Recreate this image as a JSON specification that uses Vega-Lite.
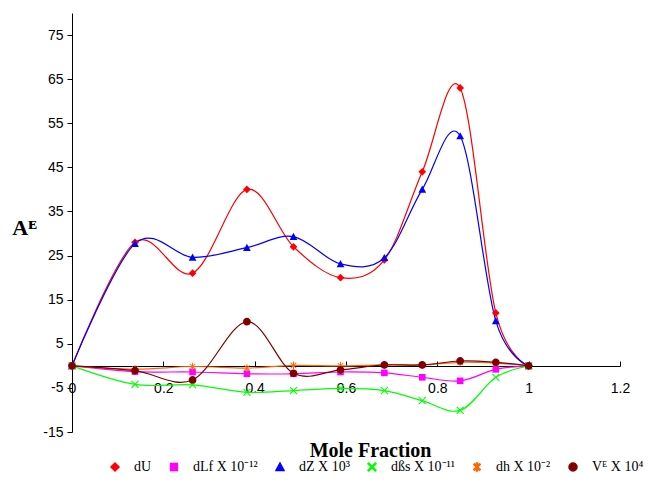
{
  "$schema": "https://vega.github.io/schema/vega-lite/v6.json",
  "width": 548,
  "height": 419,
  "autosize": {"type": "none"},
  "padding": {"left": 72, "top": 13, "right": 28, "bottom": 50},
  "background": "white",
  "config": {
    "view": {"stroke": null}, "font": "Liberation Sans",
    "legend": {
      "orient": "none", "legendX": 36, "legendY": 447,
      "direction": "horizontal", "columns": 6, "title": null,
      "labelFont": "Liberation Serif", "labelFontSize": 14, "labelColor": "black",
      "symbolSize": 64, "labelOffset": 12, "columnPadding": 15
    }
  },
  "data": {"values": [
    {"s": "dU", "x": 0, "v": 0}, {"s": "dU", "x": 0.138, "v": 28}, {"s": "dU", "x": 0.264, "v": 21}, {"s": "dU", "x": 0.383, "v": 40}, {"s": "dU", "x": 0.485, "v": 27}, {"s": "dU", "x": 0.588, "v": 20}, {"s": "dU", "x": 0.684, "v": 24}, {"s": "dU", "x": 0.767, "v": 44}, {"s": "dU", "x": 0.85, "v": 63}, {"s": "dU", "x": 0.928, "v": 12}, {"s": "dU", "x": 1, "v": 0},
    {"s": "dLf X 10⁻¹²", "x": 0, "v": 0}, {"s": "dLf X 10⁻¹²", "x": 0.138, "v": -1.3}, {"s": "dLf X 10⁻¹²", "x": 0.264, "v": -1.4}, {"s": "dLf X 10⁻¹²", "x": 0.383, "v": -1.8}, {"s": "dLf X 10⁻¹²", "x": 0.485, "v": -1.8}, {"s": "dLf X 10⁻¹²", "x": 0.588, "v": -1.4}, {"s": "dLf X 10⁻¹²", "x": 0.684, "v": -1.6}, {"s": "dLf X 10⁻¹²", "x": 0.767, "v": -2.6}, {"s": "dLf X 10⁻¹²", "x": 0.85, "v": -3.4}, {"s": "dLf X 10⁻¹²", "x": 0.928, "v": -0.8}, {"s": "dLf X 10⁻¹²", "x": 1, "v": 0},
    {"s": "dZ X 10³", "x": 0, "v": 0}, {"s": "dZ X 10³", "x": 0.138, "v": 27.7}, {"s": "dZ X 10³", "x": 0.264, "v": 24.6}, {"s": "dZ X 10³", "x": 0.383, "v": 26.8}, {"s": "dZ X 10³", "x": 0.485, "v": 29.3}, {"s": "dZ X 10³", "x": 0.588, "v": 23.1}, {"s": "dZ X 10³", "x": 0.684, "v": 24.5}, {"s": "dZ X 10³", "x": 0.767, "v": 40}, {"s": "dZ X 10³", "x": 0.85, "v": 52.1}, {"s": "dZ X 10³", "x": 0.928, "v": 10.2}, {"s": "dZ X 10³", "x": 1, "v": 0},
    {"s": "dßs X 10⁻¹¹", "x": 0, "v": 0}, {"s": "dßs X 10⁻¹¹", "x": 0.138, "v": -4.2}, {"s": "dßs X 10⁻¹¹", "x": 0.264, "v": -4.3}, {"s": "dßs X 10⁻¹¹", "x": 0.383, "v": -6.0}, {"s": "dßs X 10⁻¹¹", "x": 0.485, "v": -5.6}, {"s": "dßs X 10⁻¹¹", "x": 0.588, "v": -5.1}, {"s": "dßs X 10⁻¹¹", "x": 0.684, "v": -5.6}, {"s": "dßs X 10⁻¹¹", "x": 0.767, "v": -7.9}, {"s": "dßs X 10⁻¹¹", "x": 0.85, "v": -10.1}, {"s": "dßs X 10⁻¹¹", "x": 0.928, "v": -2.6}, {"s": "dßs X 10⁻¹¹", "x": 1, "v": 0},
    {"s": "dh X 10⁻²", "x": 0, "v": 0}, {"s": "dh X 10⁻²", "x": 0.138, "v": -0.75}, {"s": "dh X 10⁻²", "x": 0.264, "v": -0.15}, {"s": "dh X 10⁻²", "x": 0.383, "v": -0.5}, {"s": "dh X 10⁻²", "x": 0.485, "v": 0.1}, {"s": "dh X 10⁻²", "x": 0.588, "v": 0}, {"s": "dh X 10⁻²", "x": 0.684, "v": 0.2}, {"s": "dh X 10⁻²", "x": 0.767, "v": 0.2}, {"s": "dh X 10⁻²", "x": 0.85, "v": 0.8}, {"s": "dh X 10⁻²", "x": 0.928, "v": 0.6}, {"s": "dh X 10⁻²", "x": 1, "v": 0},
    {"s": "Vᴱ X 10⁴", "x": 0, "v": 0}, {"s": "Vᴱ X 10⁴", "x": 0.138, "v": -1.1}, {"s": "Vᴱ X 10⁴", "x": 0.264, "v": -3.2}, {"s": "Vᴱ X 10⁴", "x": 0.383, "v": 10.0}, {"s": "Vᴱ X 10⁴", "x": 0.485, "v": -1.7}, {"s": "Vᴱ X 10⁴", "x": 0.588, "v": -0.9}, {"s": "Vᴱ X 10⁴", "x": 0.684, "v": 0.2}, {"s": "Vᴱ X 10⁴", "x": 0.767, "v": 0.2}, {"s": "Vᴱ X 10⁴", "x": 0.85, "v": 1.1}, {"s": "Vᴱ X 10⁴", "x": 0.928, "v": 0.8}, {"s": "Vᴱ X 10⁴", "x": 1, "v": 0}
  ]},
  "encoding": {
    "x": {
      "field": "x", "type": "quantitative",
      "scale": {"domain": [0, 1.2], "nice": false, "zero": false},
      "axis": {
        "orient": "bottom", "offset": -66,
        "values": [0, 0.2, 0.4, 0.6, 0.8, 1, 1.2], "labelExpr": "'' + datum.value",
        "tickSize": -5, "labelPadding": 20, "labelFlush": false, "labelOverlap": false,
        "labelFont": "Liberation Sans", "labelFontSize": 14, "labelColor": "black",
        "domainColor": "black", "tickColor": "black", "grid": false,
        "title": "Mole Fraction", "titleFont": "Liberation Serif", "titleFontSize": 20,
        "titleFontWeight": "bold", "titleColor": "black",
        "titleX": 298, "titleY": 84, "titleAlign": "center", "titleBaseline": "middle"
      }
    },
    "y": {
      "field": "v", "type": "quantitative",
      "scale": {"domain": [-15, 80], "nice": false, "zero": false},
      "axis": {
        "values": [-15, -5, 5, 15, 25, 35, 45, 55, 65, 75], "labelExpr": "'' + datum.value",
        "tickSize": 5, "labelPadding": 4, "labelFlush": false, "labelOverlap": false,
        "labelFont": "Liberation Sans", "labelFontSize": 14, "labelColor": "black",
        "domainColor": "black", "tickColor": "black", "grid": false,
        "title": "Aᴱ", "titleFont": "Liberation Serif", "titleFontSize": 22,
        "titleFontWeight": "bold", "titleColor": "black", "titleAngle": 0,
        "titleX": -48, "titleY": 214, "titleAlign": "center", "titleBaseline": "middle"
      }
    }
  },
  "layer": [
    {
      "mark": {"type": "line", "interpolate": "cardinal", "strokeWidth": 1.2},
      "encoding": {
        "color": {
          "field": "s", "type": "nominal",
          "scale": {
            "domain": ["dU", "dLf X 10⁻¹²", "dZ X 10³", "dßs X 10⁻¹¹", "dh X 10⁻²", "Vᴱ X 10⁴"],
            "range": ["#FF0000", "#FF00FF", "#0000FF", "#00FF00", "#FF6600", "#800000"]
          }
        }
      }
    },
    {
      "mark": {"type": "point", "filled": true, "opacity": 1, "size": 60},
      "encoding": {
        "color": {
          "field": "s", "type": "nominal",
          "scale": {
            "domain": ["dU", "dLf X 10⁻¹²", "dZ X 10³", "dßs X 10⁻¹¹", "dh X 10⁻²", "Vᴱ X 10⁴"],
            "range": ["#FF0000", "#FF00FF", "#0000FF", "#00FF00", "#FF6600", "#800000"]
          }
        },
        "shape": {
          "field": "s", "type": "nominal",
          "scale": {
            "domain": ["dU", "dLf X 10⁻¹²", "dZ X 10³", "dßs X 10⁻¹¹", "dh X 10⁻²", "Vᴱ X 10⁴"],
            "range": [
              "M0,-1L1,0L0,1L-1,0Z",
              "M-0.85,-0.85H0.85V0.85H-0.85Z",
              "M0,-1L1,0.85H-1Z",
              "M-1,-0.8L-0.8,-1L0,-0.2L0.8,-1L1,-0.8L0.2,0L1,0.8L0.8,1L0,0.2L-0.8,1L-1,0.8L-0.2,0Z",
              "M-0.8,-0.64L-0.64,-0.8L0,-0.16L0.64,-0.8L0.8,-0.64L0.16,0L0.8,0.64L0.64,0.8L0,0.16L-0.64,0.8L-0.8,0.64L-0.16,0Z M-0.13,-1H0.13V1H-0.13Z",
              "M1,0A1,1,0,1,1,-1,0A1,1,0,1,1,1,0Z"
            ]
          }
        }
      }
    }
  ]
}
